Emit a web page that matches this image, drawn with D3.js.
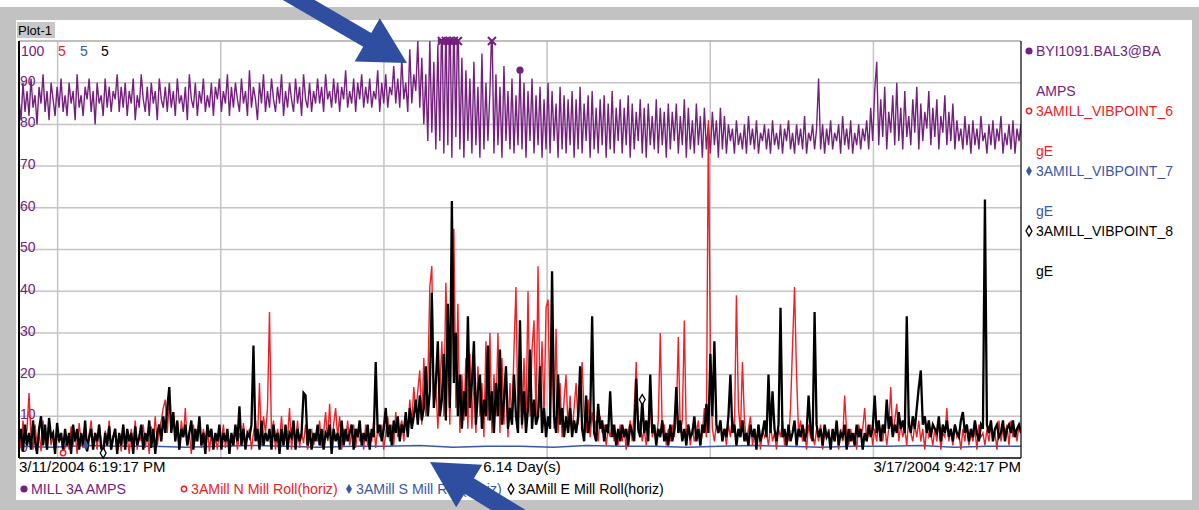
<!DOCTYPE html>
<html>
<head>
<meta charset="utf-8">
<script src="https://cdn.jsdelivr.net/npm/d3@7"></script>
<style>
body{margin:0;background:#fff}
svg{display:block;font-family:"Liberation Sans",Arial,sans-serif}
</style>
</head>
<body>
<div id="chart"></div>
<script>
//time span of the trend
var startTime = new Date(2004, 2, 11, 18, 19, 17);
var endTime = new Date(2004, 2, 17, 21, 42, 17);
var spanLabel = "6.14 Day(s)";
var startLabel = "3/11/2004 6:19:17 PM";
var endLabel = "3/17/2004 9:42:17 PM";

//BYI1091.BAL3@BA  (AMPS, axis 0-100), evenly sampled over the span
var amps = [
 86,81,90,83,88,82,91,84,87,80,89,85,92,83,88,81,90,86,82,89,84,91,83,87,82,
 90,85,88,81,92,84,87,82,89,86,91,83,88,80,90,85,87,82,91,84,89,83,88,86,92,
 83,89,84,90,82,88,85,91,81,87,84,92,86,83,89,82,90,85,88,81,91,86,84,89,83,
 90,84,88,82,91,85,87,83,89,81,92,86,84,90,82,88,85,91,83,87,84,90,82,89,86,
 91,83,88,85,92,82,89,84,90,86,83,91,85,88,82,93,84,89,86,81,90,85,92,83,88,
 84,91,86,83,89,85,92,82,88,84,90,86,83,91,85,89,82,92,86,84,90,83,88,85,91,
 85,89,83,92,86,88,84,91,85,90,83,89,86,93,84,88,85,91,83,90,86,92,84,89,85,
 91,84,88,86,93,83,90,85,92,84,89,87,94,85,91,84,96,86,90,83,98,85,92,88,100,
 84,96,80,92,76,100,78,95,74,99,76,108,73,104,75,110,72,106,77,109,74,96,72,93,76,
 91,73,95,75,89,72,97,74,90,76,88,105,73,92,75,89,72,94,76,88,74,91,73,87,75,
 93,74,90,72,88,76,91,73,87,75,89,72,86,74,90,73,88,76,85,72,89,74,87,73,86,
 75,88,72,86,74,89,73,85,76,87,72,88,74,84,73,86,75,87,72,85,74,88,73,84,76,
 86,73,84,75,87,72,85,74,83,76,86,73,84,72,85,75,82,74,86,73,84,75,83,72,85,
 74,83,76,85,73,82,75,86,72,84,74,81,73,85,75,82,72,84,74,80,73,83,75,81,72,
 84,74,82,73,80,76,79,73,81,75,78,74,80,73,82,75,79,74,81,73,78,76,80,74,79,
 73,81,75,78,74,80,73,79,76,81,74,78,73,80,75,79,74,82,73,78,76,80,74,79,91,
 74,80,73,79,75,81,74,78,76,80,73,82,75,79,74,81,73,78,75,80,74,79,76,81,74,
 84,76,88,95,75,86,77,89,74,83,78,87,75,90,76,84,74,88,77,82,75,86,78,89,74,
 85,76,83,79,88,75,84,77,86,74,82,78,87,75,83,76,85,74,81,76,79,74,82,75,80,
 73,81,75,79,74,82,76,78,73,80,75,81,74,79,76,82,73,78,75,80,74,81,73,79,76,
 80
];
//3AMILL_VIBPOINT_6 (gE, axis 0-5)
var vib6 = [
 0.3,0.12,0.45,0.2,0.35,0.78,0.25,0.1,0.4,0.15,0.32,0.08,0.45,0.2,0.1,0.38,0.15,0.28,0.05,0.42,0.18,0.3,0.06,0.12,0.25,
 0.1,0.38,0.15,0.3,0.05,0.42,0.2,0.12,0.35,0.08,0.28,0.45,0.15,0.3,0.1,0.4,0.2,0.05,0.33,0.15,0.45,0.1,0.25,0.35,0.12,
 0.3,0.08,0.4,0.18,0.25,0.05,0.35,0.15,0.45,0.1,0.28,0.2,0.4,0.12,0.3,0.05,0.38,0.2,0.5,0.15,0.35,0.45,0.6,0.7,0.3,
 0.72,0.4,0.55,0.2,0.35,0.1,0.45,0.25,0.6,0.15,0.3,0.05,0.4,0.2,0.3,0.45,0.12,0.35,0.2,0.4,0.08,0.3,0.15,0.25,0.1,
 0.35,0.2,0.4,0.12,0.3,0.05,0.28,0.15,0.38,0.1,0.3,0.2,0.42,0.15,0.25,0.35,0.1,0.3,0.45,0.2,0.9,0.15,0.5,0.3,0.6,
 1.75,0.25,0.45,0.1,0.35,0.2,0.5,0.15,0.3,0.25,0.6,0.1,0.35,0.2,0.45,0.12,0.3,0.18,0.4,0.1,0.25,0.35,0.15,0.3,0.2,
 0.45,0.12,0.3,0.55,0.2,0.65,0.15,0.4,0.6,0.25,0.5,0.1,0.35,0.2,0.45,0.15,0.3,0.4,0.12,0.35,0.2,0.3,0.1,0.4,0.15,
 0.3,0.2,0.45,0.12,0.35,0.25,0.4,0.1,0.3,0.5,0.2,0.4,0.15,0.55,0.25,0.35,0.45,0.2,0.5,0.3,0.7,0.4,0.85,0.55,0.8,
 1.05,0.4,1.2,0.5,0.9,2.05,2.3,0.6,0.9,0.35,0.8,1.4,0.5,2.1,1.2,0.4,1.5,2.75,0.6,1.85,0.3,1.0,0.45,1.2,0.35,
 1.25,0.35,1.0,0.3,1.1,0.5,0.9,0.25,1.4,0.45,1.5,0.3,1.0,0.5,1.5,0.3,1.2,0.4,1.1,0.25,0.9,0.4,1.3,2.05,0.35,
 0.9,0.35,1.2,0.4,2.0,0.5,1.3,1.65,0.45,2.3,0.6,1.4,0.5,1.8,1.9,0.45,1.3,0.35,1.55,0.3,0.9,0.25,0.7,1.0,0.3,
 0.75,0.3,0.6,0.9,0.4,0.7,1.15,0.5,0.3,0.7,0.25,0.55,0.3,0.45,0.2,0.5,0.3,0.4,0.15,0.35,0.25,0.4,0.2,0.3,0.15,
 0.4,0.2,0.35,0.1,0.3,0.45,0.2,0.6,1.15,0.3,0.45,0.2,0.35,0.15,0.4,0.6,0.25,0.35,0.2,0.45,1.5,0.3,0.4,0.15,0.35,
 0.2,0.4,0.25,0.5,1.45,0.3,0.45,1.65,0.25,0.4,0.15,0.35,0.2,0.3,0.45,0.15,0.3,0.6,0.25,4.05,1.25,0.35,0.2,0.4,0.3,
 0.45,0.2,0.35,0.15,0.4,0.25,0.5,0.3,1.95,0.6,0.3,1.15,0.45,0.2,0.35,0.5,0.15,0.3,0.2,0.4,0.1,0.35,0.25,0.3,0.15,
 0.4,0.2,0.3,0.1,0.35,0.25,0.45,0.15,0.3,0.2,0.6,1.35,2.05,1.0,0.3,0.45,0.2,0.35,0.1,0.4,0.25,0.3,0.15,0.35,0.2,
 0.4,0.1,0.3,0.25,0.35,0.15,0.3,0.2,0.4,0.1,0.35,0.2,0.75,0.3,0.15,0.35,0.2,0.3,0.1,0.4,0.25,0.35,0.6,0.2,0.3,
 0.4,0.15,0.35,0.2,0.45,0.3,0.2,0.4,0.15,0.35,0.85,0.3,0.45,0.65,0.2,0.4,0.25,0.35,0.15,0.5,0.3,0.2,0.4,0.25,0.45,
 0.2,0.35,0.1,0.4,0.25,0.3,0.15,0.35,0.2,0.45,0.1,0.3,0.25,0.6,0.2,0.35,0.15,0.4,0.25,0.3,0.1,0.35,0.2,0.4,0.15,
 0.3,0.2,0.35,0.1,0.4,0.25,0.3,0.15,0.35,0.2,0.4,0.25,0.3,0.1,0.45,0.2,0.35,0.3,0.4,0.15,0.45,0.25,0.35,0.2,0.4,
 0.3
];
//3AMILL_VIBPOINT_7 (gE, axis 0-5)
var vib7 = [
 0.14,0.13,0.15,0.14,0.14,0.13,0.14,0.15,0.14,0.13,0.14,0.14,0.15,0.13,0.14,0.14,
 0.13,0.15,0.14,0.14,0.13,0.14,0.15,0.14,0.13,0.14,0.14,0.15,0.13,0.14,0.14
];
//3AMILL_VIBPOINT_8 (gE, axis 0-5)
var vib8 = [
 0.2,0.35,0.08,0.4,0.15,0.3,0.1,0.45,0.2,0.05,0.35,0.5,0.15,0.4,0.1,0.48,0.25,0.3,0.05,0.42,0.2,0.3,0.1,0.35,0.15,
 0.3,0.05,0.4,0.2,0.35,0.1,0.3,0.15,0.45,0.08,0.25,0.35,0.1,0.3,0.2,0.4,0.12,0.06,0.3,0.15,0.38,0.1,0.25,0.35,0.05,
 0.3,0.15,0.4,0.1,0.35,0.2,0.3,0.05,0.38,0.15,0.25,0.4,0.1,0.3,0.2,0.45,0.12,0.35,0.05,0.3,0.4,0.2,0.5,0.3,0.6,
 0.85,0.3,0.55,0.2,0.45,0.1,0.35,0.25,0.4,0.15,0.3,0.45,0.1,0.35,0.2,0.5,0.15,0.3,0.05,0.4,0.25,0.35,0.1,0.3,0.2,
 0.4,0.1,0.3,0.2,0.35,0.05,0.3,0.15,0.4,0.2,0.62,0.15,0.35,0.1,0.3,0.25,0.4,1.35,0.2,0.35,0.1,0.45,0.15,0.3,0.2,
 0.35,0.1,0.4,0.2,0.3,0.05,0.35,0.15,0.4,0.1,0.3,0.25,0.45,0.1,0.35,0.2,0.3,0.78,0.75,0.15,0.35,0.1,0.3,0.2,0.4,
 0.15,0.35,0.1,0.3,0.25,0.4,0.05,0.35,0.2,0.3,0.1,0.45,0.15,0.35,0.2,0.3,0.4,0.1,0.35,0.25,0.45,0.15,0.3,0.2,0.4,
 0.1,0.35,0.25,1.15,0.3,0.4,0.2,0.35,0.6,0.25,0.4,0.15,0.45,0.3,0.5,0.2,0.4,0.3,0.55,0.25,0.6,0.35,0.5,0.7,0.4,
 0.75,0.45,0.6,1.1,0.5,0.8,1.98,0.6,0.9,1.4,0.5,0.7,1.25,0.45,1.85,0.6,3.08,0.9,1.5,0.5,1.0,0.35,0.8,0.5,1.7,
 0.6,0.9,1.4,0.4,0.8,1.0,0.35,0.7,0.5,1.35,0.45,0.8,0.3,0.9,0.5,1.3,0.4,0.7,1.1,0.35,0.6,0.4,1.0,0.5,0.3,
 1.65,0.4,0.8,0.3,0.6,1.3,0.35,0.7,0.4,0.5,1.1,0.3,0.6,0.25,0.5,0.35,2.24,0.5,0.3,1.0,0.4,0.6,0.25,0.5,0.3,
 0.6,0.25,0.45,0.3,0.5,1.1,0.35,0.2,0.75,0.3,0.45,1.7,0.3,0.2,0.65,0.35,0.45,0.2,0.4,0.3,0.8,0.25,0.4,0.15,0.35,
 0.2,0.4,0.25,0.35,0.15,0.4,0.3,0.2,0.95,0.35,0.25,0.7,0.3,0.45,0.2,1.0,0.3,0.4,0.15,0.35,0.25,0.45,0.2,0.3,0.15,
 0.4,0.2,0.35,0.85,0.3,0.45,0.2,0.35,0.15,0.4,0.25,0.3,0.5,0.2,0.35,0.15,0.4,0.3,0.65,0.3,1.25,0.5,1.4,0.4,0.3,
 0.45,0.2,0.35,0.25,0.5,1.0,0.3,0.4,0.15,0.35,0.25,0.45,0.2,0.3,0.15,0.4,0.25,0.35,0.1,0.4,0.2,0.3,0.45,0.25,1.0,
 0.3,0.8,0.35,0.2,0.4,1.8,0.25,0.35,0.15,0.4,0.2,0.3,0.45,0.15,0.35,0.25,0.4,0.2,0.3,0.75,0.35,0.2,1.75,0.4,0.25,
 0.35,0.15,0.4,0.25,0.3,0.1,0.35,0.2,0.45,0.15,0.3,0.25,0.4,0.1,0.35,0.2,0.3,0.15,0.4,0.25,0.35,0.1,0.3,0.2,0.4,
 0.25,0.35,0.75,0.3,0.45,0.2,0.4,0.3,0.7,0.35,0.5,0.25,0.4,0.3,0.55,0.35,0.45,0.3,1.7,0.4,0.3,0.5,0.35,0.6,0.85,
 1.05,0.4,0.5,0.3,0.45,0.25,0.4,0.35,0.3,0.5,0.2,0.4,0.3,0.45,0.25,0.35,0.2,0.4,0.3,0.25,0.45,0.55,0.3,0.4,0.2,
 0.35,0.25,0.45,0.3,0.2,0.4,0.35,3.1,0.4,0.3,0.45,0.2,0.35,0.4,0.25,0.3,0.45,0.2,0.35,0.4,0.3,0.45,0.25,0.35,0.4,
 0.3
];
//axis ticks and labels
var ampTicks = [0, 10, 20, 30, 40, 50, 60, 70, 80, 90];
var ampMax = 100, geMax = 5;
var topLabels = ["100", "5", "5", "5"];
var tagNames = ["BYI1091.BAL3@BA", "3AMILL_VIBPOINT_6", "3AMILL_VIBPOINT_7", "3AMILL_VIBPOINT_8"];
var tagUnits = ["AMPS", "gE", "gE", "gE"];
var legendNames = ["MILL 3A AMPS", "3AMill N Mill Roll(horiz)", "3AMill S Mill Roll(horiz)", "3AMill E Mill Roll(horiz)"];
//markers shown on the traces (sample index)
var ampDot = 250, vib6Dot = 22, vib7Dot = 2, vib8Dots = [42, 311];

//colours
var cPurple = "#74207d", cRed = "#ee2127", cBlue = "#3a57a6", cBlack = "#000";
var seriesColors = [cPurple, cRed, cBlue, cBlack];

const Width = 1199, Height = 510;
const pLeft = 19, pRight = 1021, pTop = 41, pBottom = 458;

var svg = d3.select("#chart").append("svg").attr("width", Width).attr("height", Height);

//gray frame round the white panel
svg.append("rect").attr("x", 0).attr("y", 7).attr("width", Width).attr("height", Height - 7).attr("fill", "#c2c2c2");
svg.append("rect").attr("x", 16).attr("y", 20).attr("width", 1176).attr("height", 480).attr("fill", "#fff");

//Plot-1 tab
svg.append("rect").attr("x", 17).attr("y", 22).attr("width", 38).attr("height", 16).attr("fill", "#c8c8c8");
svg.append("text").attr("x", 18).attr("y", 35).attr("font-size", 13).attr("fill", "#000").text("Plot-1");

//scales
var xScale = d3.scaleTime().domain([startTime, endTime]).range([pLeft, pRight]);
var yAmp = d3.scaleLinear().domain([0, ampMax]).range([pBottom, pTop]);
var yGe = d3.scaleLinear().domain([0, geMax]).range([pBottom, pTop]);
function timeAt(i, n) {
    return new Date(+startTime + i * (endTime - startTime) / (n - 1));
}

//grid
var grid = svg.append("g").attr("stroke", "#c4c4c4").attr("stroke-width", 1.5);
grid.selectAll(".hg").data(ampTicks.filter(d => d > 0)).enter().append("line")
    .attr("x1", pLeft).attr("x2", pRight).attr("y1", d => yAmp(d)).attr("y2", d => yAmp(d));
grid.selectAll(".vg").data(d3.timeDay.range(d3.timeDay.ceil(startTime), endTime)).enter().append("line")
    .attr("x1", d => xScale(d)).attr("x2", d => xScale(d)).attr("y1", pTop).attr("y2", pBottom);
svg.append("line").attr("x1", pLeft).attr("x2", pRight).attr("y1", pTop).attr("y2", pTop)
    .attr("stroke", "#a8a8a8").attr("stroke-width", 1.5);

//value labels inside the plot
svg.selectAll(".ampLbl").data(ampTicks).enter().append("text")
    .attr("x", 20).attr("y", d => Math.min(yAmp(d) - 2, 447)).attr("dy", "0.35em")
    .attr("font-size", 14).attr("fill", cPurple).text(d => d);
var topX = [21, 58, 80, 101];
svg.selectAll(".topLbl").data(topLabels).enter().append("text")
    .attr("x", (d, i) => topX[i]).attr("y", 51).attr("dy", "0.35em")
    .attr("font-size", 14).attr("fill", (d, i) => seriesColors[i]).text(d => d);

//traces
svg.append("clipPath").attr("id", "plotClip").append("rect")
    .attr("x", pLeft).attr("y", pTop).attr("width", pRight - pLeft).attr("height", pBottom - pTop);
var traces = svg.append("g").attr("clip-path", "url(#plotClip)");
function tracePath(data, yScale) {
    return d3.line().x((d, i) => xScale(timeAt(i, data.length))).y(d => yScale(d))(data);
}
traces.append("path").attr("d", tracePath(amps, yAmp)).attr("fill", "none")
    .attr("stroke", cPurple).attr("stroke-width", 1.4);
traces.append("path").attr("d", tracePath(vib7, yGe)).attr("fill", "none")
    .attr("stroke", cBlue).attr("stroke-width", 1.5);
traces.append("path").attr("d", tracePath(vib6, yGe)).attr("fill", "none")
    .attr("stroke", cRed).attr("stroke-width", 1.4);
traces.append("path").attr("d", tracePath(vib8, yGe)).attr("fill", "none")
    .attr("stroke", cBlack).attr("stroke-width", 2.3);

//off-scale amps shown as x marks on the top edge
var over = amps.map((d, i) => ({v: d, i: i})).filter(d => d.v > ampMax);
svg.selectAll(".xm").data(over).enter().append("path")
    .attr("transform", d => "translate(" + xScale(timeAt(d.i, amps.length)) + "," + pTop + ")")
    .attr("d", "M-4,-4L4,4M-4,4L4,-4").attr("stroke", cPurple).attr("stroke-width", 2);
if (over.length > 1) {
    svg.append("line").attr("x1", xScale(timeAt(over[0].i, amps.length)) - 4)
        .attr("x2", xScale(timeAt(over[over.length - 2].i, amps.length)))
        .attr("y1", pTop).attr("y2", pTop).attr("stroke", cPurple).attr("stroke-width", 4);
}

//symbols
var circleSym = d3.symbol().type(d3.symbolCircle).size(40);
var diamondSym = d3.symbol().type(d3.symbolDiamond).size(30);
function marker(x, y, kind) {
    var p = svg.append("path").attr("transform", "translate(" + x + "," + y + ")");
    if (kind == 0) p.attr("d", circleSym()).attr("fill", cPurple);
    if (kind == 1) p.attr("d", d3.symbol().type(d3.symbolCircle).size(22)()).attr("fill", "#fff").attr("stroke", cRed).attr("stroke-width", 1.5);
    if (kind == 2) p.attr("d", diamondSym()).attr("fill", cBlue);
    if (kind == 3) p.attr("d", diamondSym()).attr("fill", "#fff").attr("stroke", cBlack).attr("stroke-width", 1.3);
    return p;
}
marker(xScale(timeAt(ampDot, amps.length)), yAmp(amps[ampDot]), 0);
marker(xScale(timeAt(vib6Dot, vib6.length)), yGe(vib6[vib6Dot]), 1);
marker(xScale(timeAt(vib7Dot, vib7.length)), yGe(vib7[vib7Dot]), 2);
vib8Dots.forEach(i => marker(xScale(timeAt(i, vib8.length)), yGe(vib8[i]), 3));

//plot borders
svg.append("line").attr("x1", pLeft).attr("x2", pLeft).attr("y1", pTop).attr("y2", pBottom).attr("stroke", "#000").attr("stroke-width", 2);
svg.append("line").attr("x1", pLeft).attr("x2", pRight).attr("y1", pBottom).attr("y2", pBottom).attr("stroke", "#000").attr("stroke-width", 1.5);
svg.append("line").attr("x1", pRight).attr("x2", pRight).attr("y1", pTop).attr("y2", pBottom).attr("stroke", "#000").attr("stroke-width", 1.2);

//time labels
svg.append("text").attr("x", pLeft).attr("y", 472).attr("font-size", 15).text(startLabel);
svg.append("text").attr("x", (pLeft + pRight) / 2 + 2).attr("y", 472).attr("font-size", 15).attr("text-anchor", "middle").text(spanLabel);
svg.append("text").attr("x", pRight).attr("y", 472).attr("font-size", 15).attr("text-anchor", "end").text(endLabel);

//right legend
tagNames.forEach((name, i) => {
    var y0 = 51 + i * 60;
    marker(1029, y0, i);
    svg.append("text").attr("x", 1036).attr("y", y0).attr("dy", "0.35em").attr("font-size", 14).attr("fill", seriesColors[i]).text(name);
    svg.append("text").attr("x", 1036).attr("y", y0 + 40).attr("dy", "0.35em").attr("font-size", 14).attr("fill", seriesColors[i]).text(tagUnits[i]);
});

//bottom legend
var legX = [24, 184, 349, 511];
legendNames.forEach((name, i) => {
    marker(legX[i], 489, i);
    svg.append("text").attr("x", legX[i] + 7).attr("y", 489).attr("dy", "0.35em").attr("font-size", 14.2).attr("fill", seriesColors[i]).text(name);
});

//blue callout arrows
function arrowPts(tail, tip, sw, hl, hw) {
    var dx = tip[0] - tail[0], dy = tip[1] - tail[1], L = Math.hypot(dx, dy);
    var ux = dx / L, uy = dy / L, nx = -uy, ny = ux;
    var bx = tip[0] - ux * hl, by = tip[1] - uy * hl;
    return [[tail[0] + nx * sw, tail[1] + ny * sw], [bx + nx * sw, by + ny * sw], [bx + nx * hw, by + ny * hw], tip,
        [bx - nx * hw, by - ny * hw], [bx - nx * sw, by - ny * sw], [tail[0] - nx * sw, tail[1] - ny * sw]];
}
var arrowLine = d3.line();
svg.append("path").attr("d", arrowLine(arrowPts([285, -8], [407, 63], 8, 46, 25)) + "Z").attr("fill", "#2f4ea0");
svg.append("path").attr("d", arrowLine(arrowPts([528, 522], [430, 462], 9, 46, 25)) + "Z").attr("fill", "#2f4ea0");
</script>
</body>
</html>
